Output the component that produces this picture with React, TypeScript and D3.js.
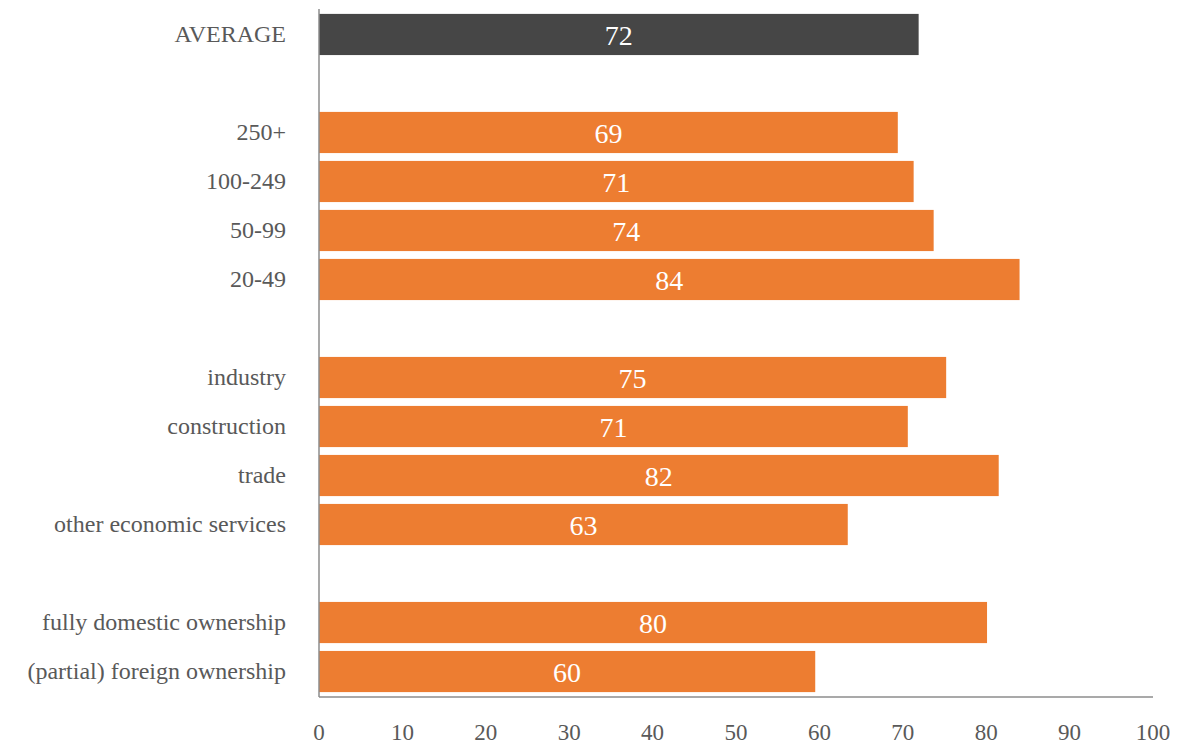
import React from "react";
import * as d3 from "d3";

const categories = [
  "AVERAGE", "", "250+", "100-249", "50-99", "20-49", " ",
  "industry", "construction", "trade", "other economic services", "  ",
  "fully domestic ownership", "(partial) foreign ownership",
];
const values: (number | null)[] = [
  71.9, null, 69.4, 71.3, 73.7, 84.0, null,
  75.2, 70.6, 81.5, 63.4, null,
  80.1, 59.5,
];
const valueLabels = ["72", "", "69", "71", "74", "84", "", "75", "71", "82", "63", "", "80", "60"];
const xTicks = [0, 10, 20, 30, 40, 50, 60, 70, 80, 90, 100];

const W = 1178, H = 746;
const margin = { left: 319, right: 25, top: 9, bottom: 49 };
const FONT = "'Liberation Serif', 'DejaVu Serif', serif";

export default function App() {
  const x = d3.scaleLinear().domain([0, 100]).range([margin.left, W - margin.right]);
  const y = d3.scaleBand<string>().domain(categories).range([margin.top, H - margin.bottom]).paddingInner(0.16).paddingOuter(0.1);
  const axisY = H - margin.bottom;
  return (
    <svg width={W} height={H} style={{ position: "absolute", left: 0, top: 0, background: "#fff" }}>
      {categories.map((c, i) => {
        const v = values[i];
        if (v == null) return null;
        const y0 = y(c)!;
        const bh = y.bandwidth();
        return (
          <g key={i}>
            <rect x={x(0)} y={y0} width={x(v) - x(0)} height={bh} fill={i === 0 ? "#464646" : "#ED7D31"} />
            <text x={(x(0) + x(v)) / 2} y={y0 + bh / 2} dy="0.36em" textAnchor="middle" fill="#fff" fontSize={28} fontFamily={FONT}>{valueLabels[i]}</text>
            <text x={286} y={y0 + bh / 2} dy="0.3em" textAnchor="end" fill="#595959" fontSize={24} fontFamily={FONT}>{c}</text>
          </g>
        );
      })}
      <line x1={x(0)} x2={x(0)} y1={margin.top} y2={axisY} stroke="#8c8c8c" strokeWidth={1.5} />
      <line x1={x(0)} x2={x(100)} y1={axisY} y2={axisY} stroke="#8c8c8c" strokeWidth={1.5} />
      {xTicks.map((t) => (
        <text key={t} x={x(t)} y={732} dy="0.35em" textAnchor="middle" fill="#595959" fontSize={23} fontFamily={FONT}>{t}</text>
      ))}
    </svg>
  );
}
